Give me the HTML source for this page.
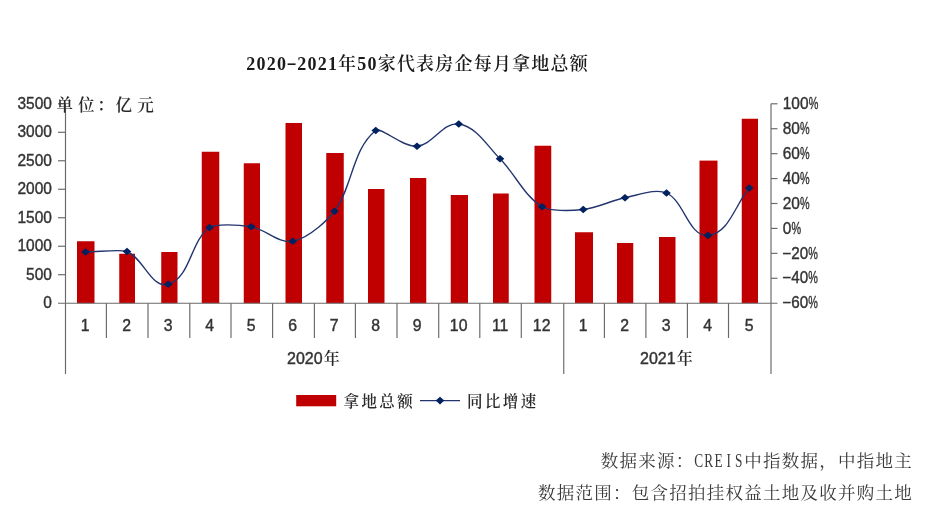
<!DOCTYPE html>
<html lang="zh-CN"><head><meta charset="utf-8"><title>2020-2021年50家代表房企每月拿地总额</title>
<style>
html,body{margin:0;padding:0;background:#fff;}
body{width:932px;height:528px;overflow:hidden;}
svg{display:block;}
.ax{font-family:"Liberation Sans","Noto Sans CJK SC",sans-serif;font-size:16.4px;fill:#333;stroke:#333;stroke-width:0.4px;}
.kai{font-family:"Liberation Serif","Noto Serif CJK SC",serif;fill:#2a2a2a;stroke:none;font-weight:600;}
.ttl{font-family:"Liberation Serif","Noto Serif CJK SC",serif;font-weight:600;font-size:18px;fill:#1a1a1a;}
.ft{font-family:"Liberation Serif","Noto Serif CJK SC",serif;font-size:17.5px;fill:#3a3a3a;}
</style></head><body>
<svg width="932" height="528" viewBox="0 0 932 528">
<rect width="932" height="528" fill="#ffffff"/>
<defs><filter id="soft" x="0" y="0" width="932" height="528" filterUnits="userSpaceOnUse"><feGaussianBlur stdDeviation="0.38"/></filter></defs>
<g filter="url(#soft)">
<g fill="#c00000">
<rect x="77" y="241.25" width="17.50" height="61.95"/>
<rect x="119.25" y="253.75" width="15.75" height="49.45"/>
<rect x="161.25" y="252" width="16.25" height="51.20"/>
<rect x="201.75" y="151.75" width="17.50" height="151.45"/>
<rect x="243.75" y="163.25" width="16.25" height="139.95"/>
<rect x="285.5" y="123" width="16.50" height="180.20"/>
<rect x="326.25" y="153" width="17.50" height="150.20"/>
<rect x="368" y="189" width="16.50" height="114.20"/>
<rect x="410" y="178" width="16.25" height="125.20"/>
<rect x="450.75" y="195" width="17.25" height="108.20"/>
<rect x="493" y="193.5" width="15.75" height="109.70"/>
<rect x="534.5" y="145.75" width="16.75" height="157.45"/>
<rect x="575" y="232.25" width="18.00" height="70.95"/>
<rect x="617" y="243" width="16.25" height="60.20"/>
<rect x="659" y="237" width="16.50" height="66.20"/>
<rect x="699.5" y="160.6" width="18.00" height="142.60"/>
<rect x="741.75" y="118.75" width="16.25" height="184.45"/>
</g>
<g stroke="#686868" stroke-width="1.15" fill="none">
<path d="M65.5 103.8 V374"/>
<path d="M58 303.2 H777.5"/>
<path d="M771.0 103.8 V374"/>
<path d="M563.75 303.2 V374"/>
<path d="M106.40 303.2 V338"/>
<path d="M148.00 303.2 V338"/>
<path d="M189.80 303.2 V338"/>
<path d="M231.00 303.2 V338"/>
<path d="M272.60 303.2 V338"/>
<path d="M314.40 303.2 V338"/>
<path d="M355.40 303.2 V338"/>
<path d="M397.00 303.2 V338"/>
<path d="M438.70 303.2 V338"/>
<path d="M479.80 303.2 V338"/>
<path d="M521.30 303.2 V338"/>
<path d="M604.40 303.2 V338"/>
<path d="M645.90 303.2 V338"/>
<path d="M687.40 303.2 V338"/>
<path d="M728.50 303.2 V338"/>
<path d="M58 103.80 H65.5"/>
<path d="M58 132.29 H65.5"/>
<path d="M58 160.77 H65.5"/>
<path d="M58 189.26 H65.5"/>
<path d="M58 217.74 H65.5"/>
<path d="M58 246.23 H65.5"/>
<path d="M58 274.71 H65.5"/>
<path d="M771.0 103.80 H777.5"/>
<path d="M771.0 128.72 H777.5"/>
<path d="M771.0 153.65 H777.5"/>
<path d="M771.0 178.57 H777.5"/>
<path d="M771.0 203.50 H777.5"/>
<path d="M771.0 228.42 H777.5"/>
<path d="M771.0 253.35 H777.5"/>
<path d="M771.0 278.27 H777.5"/>
</g>
<text class="ax" x="17.42" y="109.00" textLength="34.48" lengthAdjust="spacingAndGlyphs">3500</text>
<text class="ax" x="17.42" y="137.49" textLength="34.48" lengthAdjust="spacingAndGlyphs">3000</text>
<text class="ax" x="17.42" y="165.97" textLength="34.48" lengthAdjust="spacingAndGlyphs">2500</text>
<text class="ax" x="17.42" y="194.46" textLength="34.48" lengthAdjust="spacingAndGlyphs">2000</text>
<text class="ax" x="17.42" y="222.94" textLength="34.48" lengthAdjust="spacingAndGlyphs">1500</text>
<text class="ax" x="17.42" y="251.43" textLength="34.48" lengthAdjust="spacingAndGlyphs">1000</text>
<text class="ax" x="26.04" y="279.91" textLength="25.86" lengthAdjust="spacingAndGlyphs">500</text>
<text class="ax" x="43.28" y="308.40" textLength="8.62" lengthAdjust="spacingAndGlyphs">0</text>
<text class="ax" x="782.7" y="109.00" textLength="25.80" lengthAdjust="spacingAndGlyphs">100</text>
<text class="ax" transform="translate(808.70,109.00) scale(0.66,1)" x="0" y="0">%</text>
<text class="ax" x="782.7" y="133.92" textLength="17.20" lengthAdjust="spacingAndGlyphs">80</text>
<text class="ax" transform="translate(800.10,133.92) scale(0.66,1)" x="0" y="0">%</text>
<text class="ax" x="782.7" y="158.85" textLength="17.20" lengthAdjust="spacingAndGlyphs">60</text>
<text class="ax" transform="translate(800.10,158.85) scale(0.66,1)" x="0" y="0">%</text>
<text class="ax" x="782.7" y="183.77" textLength="17.20" lengthAdjust="spacingAndGlyphs">40</text>
<text class="ax" transform="translate(800.10,183.77) scale(0.66,1)" x="0" y="0">%</text>
<text class="ax" x="782.7" y="208.70" textLength="17.20" lengthAdjust="spacingAndGlyphs">20</text>
<text class="ax" transform="translate(800.10,208.70) scale(0.66,1)" x="0" y="0">%</text>
<text class="ax" x="782.7" y="233.62" textLength="8.60" lengthAdjust="spacingAndGlyphs">0</text>
<text class="ax" transform="translate(791.50,233.62) scale(0.66,1)" x="0" y="0">%</text>
<text class="ax" x="782.3" y="258.55" textLength="25.80" lengthAdjust="spacingAndGlyphs">−20</text>
<text class="ax" transform="translate(808.30,258.55) scale(0.66,1)" x="0" y="0">%</text>
<text class="ax" x="782.3" y="283.47" textLength="25.80" lengthAdjust="spacingAndGlyphs">−40</text>
<text class="ax" transform="translate(808.30,283.47) scale(0.66,1)" x="0" y="0">%</text>
<text class="ax" x="782.3" y="308.40" textLength="25.80" lengthAdjust="spacingAndGlyphs">−60</text>
<text class="ax" transform="translate(808.30,308.40) scale(0.66,1)" x="0" y="0">%</text>
<text class="ax" x="85.15" y="331" text-anchor="middle" style="font-size:15.8px">1</text>
<text class="ax" x="126.65" y="331" text-anchor="middle" style="font-size:15.8px">2</text>
<text class="ax" x="168.15" y="331" text-anchor="middle" style="font-size:15.8px">3</text>
<text class="ax" x="209.65" y="331" text-anchor="middle" style="font-size:15.8px">4</text>
<text class="ax" x="251.15" y="331" text-anchor="middle" style="font-size:15.8px">5</text>
<text class="ax" x="292.65" y="331" text-anchor="middle" style="font-size:15.8px">6</text>
<text class="ax" x="334.15" y="331" text-anchor="middle" style="font-size:15.8px">7</text>
<text class="ax" x="375.65" y="331" text-anchor="middle" style="font-size:15.8px">8</text>
<text class="ax" x="417.15" y="331" text-anchor="middle" style="font-size:15.8px">9</text>
<text class="ax" x="458.65" y="331" text-anchor="middle" style="font-size:15.8px">10</text>
<text class="ax" x="500.15" y="331" text-anchor="middle" style="font-size:15.8px">11</text>
<text class="ax" x="541.65" y="331" text-anchor="middle" style="font-size:15.8px">12</text>
<text class="ax" x="583.15" y="331" text-anchor="middle" style="font-size:15.8px">1</text>
<text class="ax" x="624.65" y="331" text-anchor="middle" style="font-size:15.8px">2</text>
<text class="ax" x="666.15" y="331" text-anchor="middle" style="font-size:15.8px">3</text>
<text class="ax" x="707.65" y="331" text-anchor="middle" style="font-size:15.8px">4</text>
<text class="ax" x="749.15" y="331" text-anchor="middle" style="font-size:15.8px">5</text>
<text class="ax" x="287" y="364.1" style="font-size:16px">2020<tspan class="kai" font-size="16" dx="1.2">年</tspan></text>
<text class="ax" x="640" y="364.1" style="font-size:16px">2021<tspan class="kai" font-size="16" dx="1.2">年</tspan></text>
<text class="kai" font-size="16.5" text-anchor="middle" x="64.8 86.3 105.6 123.8 145.6" y="110.6">单位：亿元</text>
<path d="M85.5 252 C99.33 251.83 120.55 248.99 127 251.5 C143.36 257.88 151.39 289.15 168.25 284.25 C190.71 277.72 190.28 240.82 209.5 227.5 C214.76 223.85 237.52 224.48 251.25 226.75 C265.73 229.15 278.37 243.99 292.8 241.3 C309.64 238.16 329.78 217.56 334.5 211.25 C352.61 187.05 352.01 149.21 375.75 130.5 C381.07 126.31 402.33 147.40 417 146.25 C432.72 145.02 443.16 121.65 458.75 124 C476.53 126.68 487.25 146.08 500 158.75 C515.08 173.74 523.85 195.68 542 206.75 C549.45 211.29 569.55 210.99 583.25 209.5 C597.62 207.94 610.82 200.56 625 197.75 C638.66 195.04 655.92 188.20 666.5 193 C684.51 201.17 688.26 236.59 708 235.4 C728.91 234.14 735.50 203.80 749.25 188" fill="none" stroke="#22346e" stroke-width="1.35" stroke-linejoin="round"/>
<g fill="#002060">
<path d="M81.2 252 L85.5 248.2 L89.8 252 L85.5 255.8Z"/>
<path d="M122.7 251.5 L127 247.7 L131.3 251.5 L127 255.3Z"/>
<path d="M163.95 284.25 L168.25 280.45 L172.55 284.25 L168.25 288.05Z"/>
<path d="M205.2 227.5 L209.5 223.7 L213.8 227.5 L209.5 231.3Z"/>
<path d="M246.95 226.75 L251.25 222.95 L255.55 226.75 L251.25 230.55Z"/>
<path d="M288.5 241.3 L292.8 237.5 L297.1 241.3 L292.8 245.10000000000002Z"/>
<path d="M330.2 211.25 L334.5 207.45 L338.8 211.25 L334.5 215.05Z"/>
<path d="M371.45 130.5 L375.75 126.7 L380.05 130.5 L375.75 134.3Z"/>
<path d="M412.7 146.25 L417 142.45 L421.3 146.25 L417 150.05Z"/>
<path d="M454.45 124 L458.75 120.2 L463.05 124 L458.75 127.8Z"/>
<path d="M495.7 158.75 L500 154.95 L504.3 158.75 L500 162.55Z"/>
<path d="M537.7 206.75 L542 202.95 L546.3 206.75 L542 210.55Z"/>
<path d="M578.95 209.5 L583.25 205.7 L587.55 209.5 L583.25 213.3Z"/>
<path d="M620.7 197.75 L625 193.95 L629.3 197.75 L625 201.55Z"/>
<path d="M662.2 193 L666.5 189.2 L670.8 193 L666.5 196.8Z"/>
<path d="M703.7 235.4 L708 231.6 L712.3 235.4 L708 239.20000000000002Z"/>
<path d="M744.95 188 L749.25 184.2 L753.55 188 L749.25 191.8Z"/>
</g>
<rect x="296.2" y="395" width="40" height="11.3" fill="#c00000"/>
<text class="kai" font-size="15.5" text-anchor="middle" x="351.3 369.2 387 405" y="407.1">拿地总额</text>
<path d="M420 400.6 H460" stroke="#22346e" stroke-width="1.35"/>
<path d="M435.7 400.6 L440 396.8 L444.3 400.6 L440 404.4Z" fill="#002060"/>
<text class="kai" font-size="15.5" text-anchor="middle" x="474.8 492.7 510.5 528.4" y="407.1">同比增速</text>
</g>
<text class="ttl" text-anchor="middle" y="70.2"><tspan x="250.80 261.00 271.20 281.40">2020</tspan></text>
<text class="ttl" text-anchor="middle" y="70.2" transform="translate(0,-1.3) scale(1.7,1)" x="171.53">-</text>
<text class="ttl" text-anchor="middle" y="70.2"><tspan x="301.80 312.00 322.20 332.40 347.10 361.80 372.00 386.70 405.90 425.10 444.30 463.50 482.70 501.90 521.10 540.30 559.50 578.70">2021年50家代表房企每月拿地总额</tspan></text>
<text class="ft" text-anchor="middle" y="467.3"><tspan x="609.38 628.13 646.88 665.63 684.38">数据来源：</tspan></text>
<text class="ft" text-anchor="middle" y="467.3" style="font-size:18px" transform="scale(0.74,1)" x="944.24 957.72 971.19 984.66 998.14">CREIS</text>
<text class="ft" text-anchor="middle" y="467.3"><tspan x="752.98 771.73 790.48 809.23 827.98 846.73 865.48 884.23 902.98">中指数据，中指地主</tspan></text>
<text class="ft" text-anchor="middle" x="546.78 565.53 584.28 603.03 621.78 640.53 659.28 678.03 696.78 715.53 734.28 753.03 771.78 790.53 809.28 828.03 846.78 865.53 884.28 903.03" y="498.8">数据范围：包含招拍挂权益土地及收并购土地</text>
</svg></body></html>
